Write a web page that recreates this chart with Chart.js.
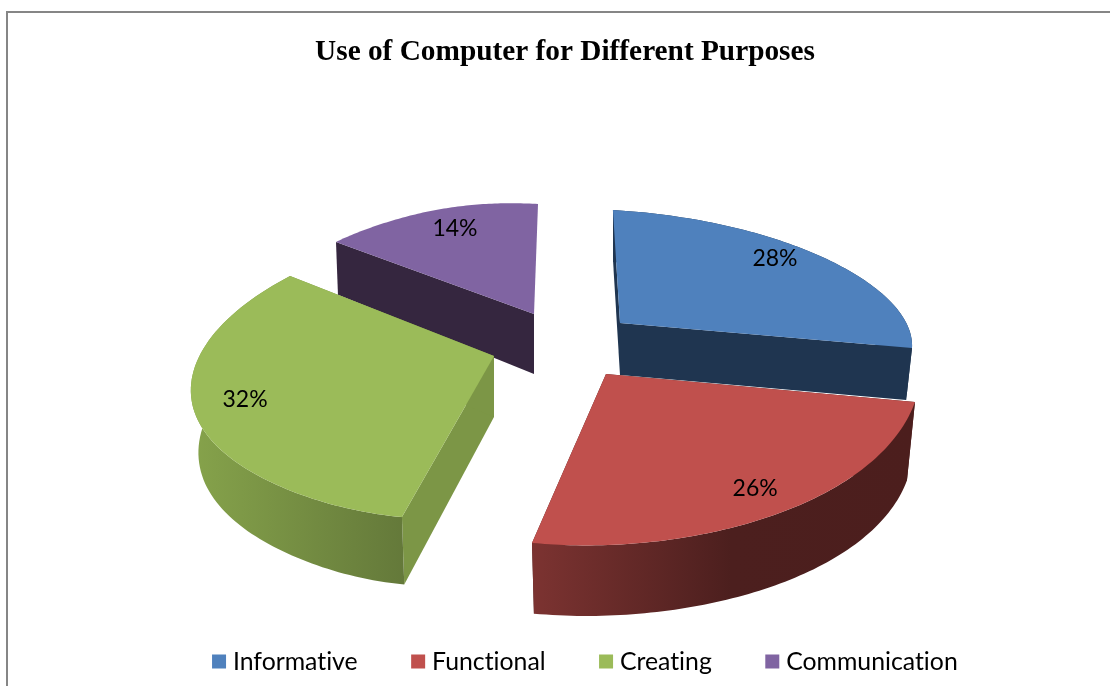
<!DOCTYPE html>
<html>
<head>
<meta charset="utf-8">
<title>Use of Computer for Different Purposes</title>
<script src="https://cdn.jsdelivr.net/npm/chart.js@4"></script>
<style>
    html, body { margin: 0; padding: 0; background: #fff; overflow: hidden; }
    #wrap { position: relative; width: 1110px; height: 686px; }
    #frame { position: absolute; left: 6px; top: 11px; right: 0; bottom: 0; border-left: 2px solid #868686; border-top: 2px solid #868686; }
    canvas { position: absolute; left: 0; top: 0; }
</style>
</head>
<body>
<div id="wrap">
    <div id="frame"></div>
    <canvas id="pieChart" width="1110" height="686"></canvas>
</div>
<script>
const titleText = 'Use of Computer for Different Purposes';
const categories = ['Informative', 'Functional', 'Creating', 'Communication'];
const shares = [28, 26, 32, 14];
const faceColors = ['#4f81bd', '#c0504d', '#9bbb59', '#8064a2'];

// fake 3D: every slice gets its own flattening matrix, apex and wall depth
const sliceViews = [
    { x: 620, y: 323, a: 296, k: -3.3, c: 7.8, d: 112.8, bulge: -0.075, skew: 0.003, depth: 52, sx: 0.98, sy: 1, backEdge: true },
    { x: 606, y: 374, a: 313.7, k: -6.8, c: 1.5, d: 173.3, bulge: -0.02, skew: 0.005, depth: 80, sx: 0.974, sy: 0.945, backEdge: true },
    { x: 494, y: 356, a: 282.2, k: -32.2, c: -22.2, d: 160, bulge: 0.04, skew: -0.042, depth: 61, sx: 0.975, sy: 1.04, backEdge: true },
    { x: 534, y: 314, a: 260, k: -13.1, c: 6.3, d: 109.9, bulge: 0.013, skew: -0.007, depth: 60, sx: 0.99, sy: 1.1, backEdge: false }
];
const cutColors = ['#1f3550', '#4c1e1d', '#7c9646', '#35263f'];
const wallStops = [
    [[0, '#1f3550'], [1, '#1f3550']],
    [[0, '#7c3331'], [0.52, '#4c1f1e'], [1, '#4c1e1d']],
    [[0, '#86a34b'], [1, '#64793a']],
    [[0, '#35263f'], [1, '#35263f']]
];
const labelNudges = [[-1.5, -16], [29, 14], [-55.6, -9], [-4, -14.6]];
const drawOrder = [0, 3, 2, 1];

function project(i, angle, r, lower) {
    const view = sliceViews[i];
    const u = r * Math.cos(angle);
    const v = r * Math.sin(angle);
    let x = view.a * u + view.k * v;
    let y = view.c * u + view.d * v;
    if (lower) {
        x *= view.sx;
        y = y * view.sy + view.depth;
    }
    return [view.x + x, view.y + y];
}

function arcPoints(i, arc, lower) {
    const view = sliceViews[i];
    const points = [];
    const steps = 80;
    for (let n = 0; n <= steps; n++) {
        const t = n / steps;
        const angle = arc.startAngle + (arc.endAngle - arc.startAngle) * t;
        const r = 1 + view.bulge * Math.sin(Math.PI * t) + view.skew * Math.sin(2 * Math.PI * t);
        points.push(project(i, angle, r, lower));
    }
    return points;
}

function fillPolygon(ctx, points, style) {
    ctx.beginPath();
    points.forEach((p, n) => n === 0 ? ctx.moveTo(p[0], p[1]) : ctx.lineTo(p[0], p[1]));
    ctx.closePath();
    ctx.fillStyle = style;
    ctx.fill();
}

function drawSlice(ctx, i, arc) {
    const top = arcPoints(i, arc, false);
    const bottom = arcPoints(i, arc, true);
    const apexTop = project(i, 0, 0, false);
    const apexBottom = project(i, 0, 0, true);

    fillPolygon(ctx, [apexTop, top[0], bottom[0], apexBottom], cutColors[i]);
    if (sliceViews[i].backEdge) {
        fillPolygon(ctx, [apexTop, top[top.length - 1], bottom[bottom.length - 1], apexBottom], cutColors[i]);

        const xs = top.concat(bottom).map(p => p[0]);
        const gradient = ctx.createLinearGradient(Math.min(...xs), 0, Math.max(...xs), 0);
        wallStops[i].forEach(stop => gradient.addColorStop(stop[0], stop[1]));
        fillPolygon(ctx, top.concat(bottom.slice().reverse()), gradient);
    }

    fillPolygon(ctx, [apexTop].concat(top), faceColors[i]);
}

const pie3d = {
    id: 'pie3d',
    afterLayout(chart) {
        chart.titleBlock.left += 10;
        chart.titleBlock.right += 10;
        chart.legend.left += 33.5;
        chart.legend.right += 33.5;
        chart.legend.top -= 2;
        chart.legend.bottom -= 2;
    },
    beforeDraw(chart) {
        // no "ti" ligature in the legend
        chart.ctx.textRendering = 'optimizeSpeed';
    },
    beforeDatasetsDraw(chart) {
        const ctx = chart.ctx;
        const arcs = chart.getDatasetMeta(0).data;
        drawOrder.forEach(i => drawSlice(ctx, i, arcs[i]));

        ctx.fillStyle = '#000';
        ctx.font = '23px Lato';
        ctx.textAlign = 'center';
        ctx.textBaseline = 'middle';
        arcs.forEach((arc, i) => {
            const mid = (arc.startAngle + arc.endAngle) / 2;
            const p = project(i, mid, 0.7, false);
            ctx.fillText(shares[i] + '%', p[0] + labelNudges[i][0], p[1] + labelNudges[i][1]);
        });
        return false;
    }
};

new Chart(document.getElementById('pieChart').getContext('2d'), {
    type: 'pie',
    data: {
        labels: categories,
        datasets: [{
            data: shares,
            backgroundColor: faceColors,
            borderWidth: 0
        }]
    },
    options: {
        responsive: false,
        animation: false,
        rotation: -2,
        plugins: {
            title: {
                display: true,
                text: titleText,
                color: '#000',
                font: { family: '"Liberation Serif"', size: 29.3, weight: 'bold' },
                padding: { top: 35, bottom: 10 }
            },
            legend: {
                position: 'bottom',
                labels: {
                    usePointStyle: true,
                    pointStyle: 'rect',
                    boxWidth: 3,
                    boxHeight: 14,
                    padding: 59,
                    color: '#000',
                    font: { family: 'Lato', size: 24.8 }
                }
            },
            tooltip: { enabled: false }
        }
    },
    plugins: [pie3d]
});
</script>
</body>
</html>
